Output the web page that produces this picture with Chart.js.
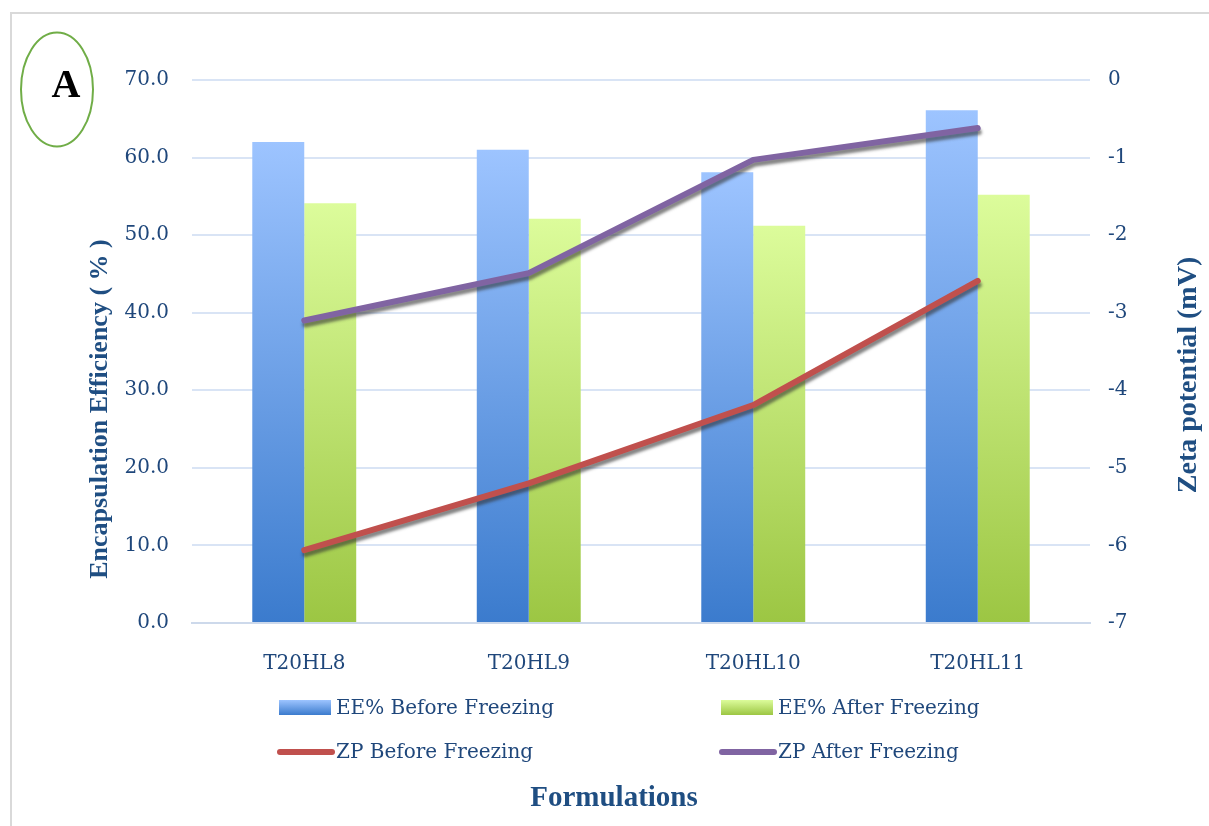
<!DOCTYPE html>
<html>
<head>
<meta charset="utf-8">
<script src="https://cdn.jsdelivr.net/npm/chart.js@4"></script>
<style>
  html, body { margin: 0; padding: 0; background: #fff; }
  #wrap { position: relative; width: 1209px; height: 826px; }
  #frame { position: absolute; left: 10px; top: 12px; right: -4px; bottom: -4px;
           border-left: 2px solid #d9d9d9; border-top: 2px solid #d9d9d9; }
  canvas { position: absolute; left: 0; top: 0; }
</style>
</head>
<body>
<div id="wrap">
  <div id="frame"></div>
  <canvas id="myChart" width="1209" height="826"></canvas>
</div>
<script>
var formulations = ['T20HL8', 'T20HL9', 'T20HL10', 'T20HL11'];
var eeBefore = [62.0, 61.0, 58.1, 66.1];
var eeAfter = [54.1, 52.1, 51.2, 55.2];
var zpBefore = [-6.06, -5.20, -4.19, -2.59];
var zpAfter = [-3.10, -2.49, -1.03, -0.62];

var textColor = '#1f477b';
var serif = "'DejaVu Serif', serif";
var boldSerif = "'Liberation Serif', 'Times New Roman', serif";

// vertical gradient per bar, light at the top, dark at the base
function barFill(top, bottom) {
    return function (c) {
        var chart = c.chart;
        if (!chart.chartArea || c.type !== 'data') return bottom;
        var y = chart.scales.y;
        var g = chart.ctx.createLinearGradient(0, y.getPixelForValue(c.raw), 0, y.getPixelForValue(0));
        g.addColorStop(0, top);
        g.addColorStop(1, bottom);
        return g;
    };
}

var blueTop = '#9dc4ff', blueBottom = '#3b7bcd';
var greenTop = '#dcfc9b', greenBottom = '#9cc643';

// soft grey shadow under the line series
var lineShadow = {
    id: 'lineShadow',
    beforeDatasetDraw: function (chart, args) {
        if (args.meta.type !== 'line') return;
        var ctx = chart.ctx;
        ctx.save();
        ctx.shadowColor = 'rgba(50,50,50,0.6)';
        ctx.shadowBlur = 3;
        ctx.shadowOffsetX = 1;
        ctx.shadowOffsetY = 4;
    },
    afterDatasetDraw: function (chart, args) {
        if (args.meta.type !== 'line') return;
        chart.ctx.restore();
    }
};

// legend in two columns, axis titles and the panel letter
var decorations = {
    id: 'decorations',
    afterDraw: function (chart) {
        var ctx = chart.ctx;
        var cols = [279, 721];
        var rows = [708, 752];
        ctx.save();
        chart.data.datasets.forEach(function (ds, i) {
            var x = cols[i % 2];
            var y = rows[Math.floor(i / 2)];
            if (ds.type === 'line') {
                ctx.strokeStyle = ds.borderColor;
                ctx.lineWidth = 6;
                ctx.lineCap = 'round';
                ctx.beginPath();
                ctx.moveTo(x + 1, y);
                ctx.lineTo(x + 53, y);
                ctx.stroke();
            } else {
                var g = ctx.createLinearGradient(0, y - 8, 0, y + 7);
                g.addColorStop(0, ds.legendTop);
                g.addColorStop(1, ds.legendBottom);
                ctx.fillStyle = g;
                ctx.fillRect(x, y - 8, 52, 15);
            }
            ctx.fillStyle = textColor;
            ctx.font = '20px ' + serif;
            ctx.textAlign = 'left';
            ctx.textBaseline = 'middle';
            ctx.fillText(ds.label, x + 57, y + 1);
        });

        ctx.fillStyle = '#1f4e82';
        ctx.textAlign = 'center';
        ctx.textBaseline = 'middle';
        ctx.font = 'bold 29px ' + boldSerif;
        ctx.fillText('Formulations', 614, 799);

        ctx.save();
        ctx.translate(100, 409);
        ctx.rotate(-Math.PI / 2);
        ctx.font = 'bold 26px ' + boldSerif;
        ctx.fillText('Encapsulation Efficiency ( % )', 0, 0);
        ctx.restore();

        ctx.save();
        ctx.translate(1189, 375);
        ctx.rotate(-Math.PI / 2);
        ctx.font = 'bold 28px ' + boldSerif;
        ctx.fillText('Zeta potential (mV)', 0, 0);
        ctx.restore();

        ctx.strokeStyle = '#70ad47';
        ctx.lineWidth = 2;
        ctx.beginPath();
        ctx.ellipse(57, 89.5, 36, 57, 0, 0, Math.PI * 2);
        ctx.stroke();
        ctx.fillStyle = '#000';
        ctx.font = 'bold 40px ' + boldSerif;
        ctx.fillText('A', 66, 87);
        ctx.restore();
    }
};

var ctx = document.getElementById('myChart').getContext('2d');

var myChart = new Chart(ctx, {
    type: 'bar',
    data: {
        labels: formulations,
        datasets: [
            {
                label: 'EE% Before Freezing',
                data: eeBefore,
                yAxisID: 'y',
                order: 2,
                backgroundColor: barFill(blueTop, blueBottom),
                legendTop: blueTop,
                legendBottom: blueBottom,
                categoryPercentage: 0.463,
                barPercentage: 1.0
            },
            {
                label: 'EE% After Freezing',
                data: eeAfter,
                yAxisID: 'y',
                order: 2,
                backgroundColor: barFill(greenTop, greenBottom),
                legendTop: greenTop,
                legendBottom: greenBottom,
                categoryPercentage: 0.463,
                barPercentage: 1.0
            },
            {
                type: 'line',
                label: 'ZP Before Freezing',
                data: zpBefore,
                yAxisID: 'y2',
                order: 1,
                borderColor: '#c0504d',
                borderWidth: 6,
                borderCapStyle: 'round',
                borderJoinStyle: 'round',
                pointRadius: 0,
                tension: 0,
                fill: false
            },
            {
                type: 'line',
                label: 'ZP After Freezing',
                data: zpAfter,
                yAxisID: 'y2',
                order: 1,
                borderColor: '#8064a2',
                borderWidth: 6,
                borderCapStyle: 'round',
                borderJoinStyle: 'round',
                pointRadius: 0,
                tension: 0,
                fill: false
            }
        ]
    },
    options: {
        responsive: false,
        maintainAspectRatio: false,
        animation: false,
        layout: { padding: { top: 80, left: 0, right: 0, bottom: 0 } },
        plugins: {
            legend: { display: false },
            tooltip: { enabled: false }
        },
        scales: {
            x: {
                grid: { display: false },
                border: { display: true, color: '#cdd9eb', width: 2 },
                ticks: { color: textColor, font: { family: serif, size: 20 }, padding: 21 },
                afterFit: function (s) { s.height = 203; }
            },
            y: {
                position: 'left',
                min: 0,
                max: 70,
                ticks: {
                    stepSize: 10,
                    color: textColor,
                    font: { family: serif, size: 20 },
                    padding: 23,
                    callback: function (v) { return v.toFixed(1); }
                },
                grid: { color: '#d9e4f5', lineWidth: 2, drawTicks: false },
                border: { display: false },
                afterFit: function (s) { s.width = 192; }
            },
            y2: {
                position: 'right',
                min: -7,
                max: 0,
                ticks: {
                    stepSize: 1,
                    color: textColor,
                    font: { family: serif, size: 20 },
                    padding: 18
                },
                grid: { display: false, drawTicks: false },
                border: { display: false },
                afterFit: function (s) { s.width = 119; }
            }
        }
    },
    plugins: [lineShadow, decorations]
});
</script>
</body>
</html>
